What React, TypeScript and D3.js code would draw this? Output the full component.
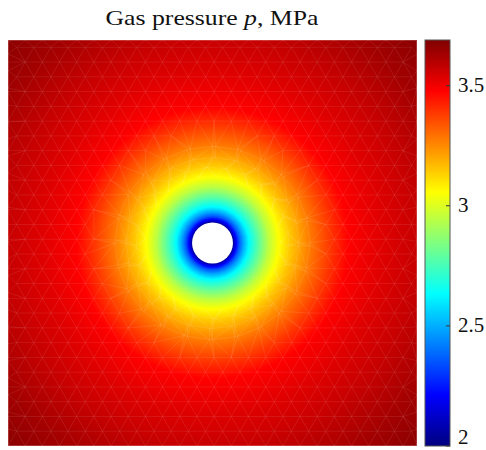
import React from "react";
import * as d3 from "d3";

// Radial pressure profile around the borehole (distance from the hole centre in m → MPa)
const RADIUS_M = [0.5, 0.56, 0.66, 0.76, 0.9, 1.15, 1.39, 1.64, 1.88, 2.37, 2.86, 3.35, 4.16, 4.99, 6.11, 7.09];
const PRESSURE_MPA = [2.02, 2.15, 2.35, 2.48, 2.63, 2.8, 2.95, 3.06, 3.14, 3.27, 3.38, 3.48, 3.53, 3.57, 3.63, 3.67];

// Domain and colour limits
const DOMAIN_X = [-5, 5];
const DOMAIN_Y = [-5, 5];
const HOLE_RADIUS = 0.5;
const COLOR_LIMITS = [2, 3.69];
const COLORBAR_TICKS = [2, 2.5, 3, 3.5];
const TITLE = "Gas pressure ";

const W = 486;
const H = 450;
const plot = { left: 8, right: 417, top: 40, bottom: 446 };
const cbar = { left: 425, right: 450, top: 40, bottom: 446 };

// MATLAB-style jet colormap
function jet(t: number): string {
  const c = (v: number) => Math.max(0, Math.min(1, v));
  const r = c(1.5 - Math.abs(4 * t - 3));
  const g = c(1.5 - Math.abs(4 * t - 2));
  const b = c(1.5 - Math.abs(4 * t - 1));
  return d3.rgb(r * 255, g * 255, b * 255).formatHex();
}

export default function App() {
  const x = d3.scaleLinear().domain(DOMAIN_X).range([plot.left, plot.right]);
  const y = d3.scaleLinear().domain(DOMAIN_Y).range([plot.bottom, plot.top]);
  const pressureAt = d3.scaleLinear().domain(RADIUS_M).range(PRESSURE_MPA).clamp(true);
  const colorT = d3.scaleLinear().domain(COLOR_LIMITS).range([0, 1]).clamp(true);
  const cbarY = d3.scaleLinear().domain(COLOR_LIMITS).range([cbar.bottom, cbar.top]);
  const pxPerM = x(1) - x(0);

  // concentric bands, outermost first
  const rMax = RADIUS_M[RADIUS_M.length - 1] + 0.05;
  const step = 0.02;
  const radii: number[] = [];
  for (let r = rMax; r > HOLE_RADIUS; r -= step) radii.push(r);

  // finite-element mesh: rings grading out from the hole, regular lattice further out
  const nodes: [number, number][] = [];
  let r = HOLE_RADIUS;
  while (r < 2.6) {
    const h = Math.min(0.42, 0.05 + 0.14 * (r - HOLE_RADIUS));
    const n = Math.max(12, Math.round((2 * Math.PI * r) / h));
    for (let k = 0; k < n; k++) {
      const a = (2 * Math.PI * k) / n + (nodes.length % 2) * 0.1;
      nodes.push([r * Math.cos(a), r * Math.sin(a)]);
    }
    r += h;
  }
  const s = 0.42;
  const rowH = (s * Math.sqrt(3)) / 2;
  for (let j = 0, yy = DOMAIN_Y[0]; yy <= DOMAIN_Y[1] + 1e-9; j++, yy += rowH) {
    for (let xx = DOMAIN_X[0] + (j % 2 ? s / 2 : 0); xx <= DOMAIN_X[1] + 1e-9; xx += s) {
      if (Math.hypot(xx, yy) > 2.75) nodes.push([xx, Math.min(yy, DOMAIN_Y[1])]);
    }
  }
  for (let t = DOMAIN_X[0]; t <= DOMAIN_X[1] + 1e-9; t += s) {
    nodes.push([t, DOMAIN_Y[1]], [t, DOMAIN_Y[0]], [DOMAIN_X[0], t], [DOMAIN_X[1], t]);
  }
  const pts = nodes.map(([a, b]) => [x(a), y(b)] as [number, number]);
  const delaunay = d3.Delaunay.from(pts);
  const tri = delaunay.triangles;
  let meshPath = "";
  for (let i = 0; i < tri.length; i += 3) {
    const a = nodes[tri[i]], b = nodes[tri[i + 1]], c = nodes[tri[i + 2]];
    const cx = (a[0] + b[0] + c[0]) / 3, cy = (a[1] + b[1] + c[1]) / 3;
    // the fine mesh near the hole blends into the shading
    if (Math.hypot(cx, cy) < 1.6) continue;
    const p = [pts[tri[i]], pts[tri[i + 1]], pts[tri[i + 2]]];
    meshPath += `M${p[0][0]},${p[0][1]}L${p[1][0]},${p[1][1]}L${p[2][0]},${p[2][1]}Z`;
  }

  const stops = d3.range(0, 257).map((i) => i / 256);

  return (
    <svg width={W} height={H} style={{ position: "absolute", left: 0, top: 0 }} fontFamily="'Liberation Serif', serif">
      <defs>
        <clipPath id="field-clip">
          <rect x={plot.left} y={plot.top} width={plot.right - plot.left} height={plot.bottom - plot.top} />
        </clipPath>
        <linearGradient id="jet-grad" x1="0" y1="1" x2="0" y2="0">
          {stops.map((t) => (
            <stop key={t} offset={t} stopColor={jet(t)} />
          ))}
        </linearGradient>
      </defs>

      <g clipPath="url(#field-clip)">
        {radii.map((rr) => (
          <circle key={rr} cx={x(0)} cy={y(0)} r={rr * pxPerM} fill={jet(colorT(pressureAt(rr)))} />
        ))}
        <path d={meshPath} fill="none" stroke="#ffffff" strokeOpacity={0.07} strokeWidth={0.7} />
        <rect
          x={plot.left}
          y={plot.top}
          width={plot.right - plot.left}
          height={plot.bottom - plot.top}
          fill="none"
          stroke="#ffffff"
          strokeOpacity={0.25}
          strokeWidth={1.5}
        />
      </g>
      <circle cx={x(0)} cy={y(0)} r={HOLE_RADIUS * pxPerM} fill="#ffffff" />

      <text x={212} y={25} fontSize={21} textAnchor="middle" fill="#111" textLength={213} lengthAdjust="spacingAndGlyphs">
        {TITLE}
        <tspan fontStyle="italic">p</tspan>, MPa
      </text>

      <rect
        x={cbar.left}
        y={cbar.top}
        width={cbar.right - cbar.left}
        height={cbar.bottom - cbar.top}
        fill="url(#jet-grad)"
        stroke="#555"
        strokeWidth={1}
      />
      {COLORBAR_TICKS.map((t) => (
        <g key={t}>
          <line x1={cbar.right - 4} x2={cbar.right} y1={cbarY(t)} y2={cbarY(t)} stroke="#333" strokeWidth={1} />
          <text x={458} y={Math.min(cbarY(t) + 6, 444)} fontSize={21} fill="#111">
            {t}
          </text>
        </g>
      ))}
    </svg>
  );
}
